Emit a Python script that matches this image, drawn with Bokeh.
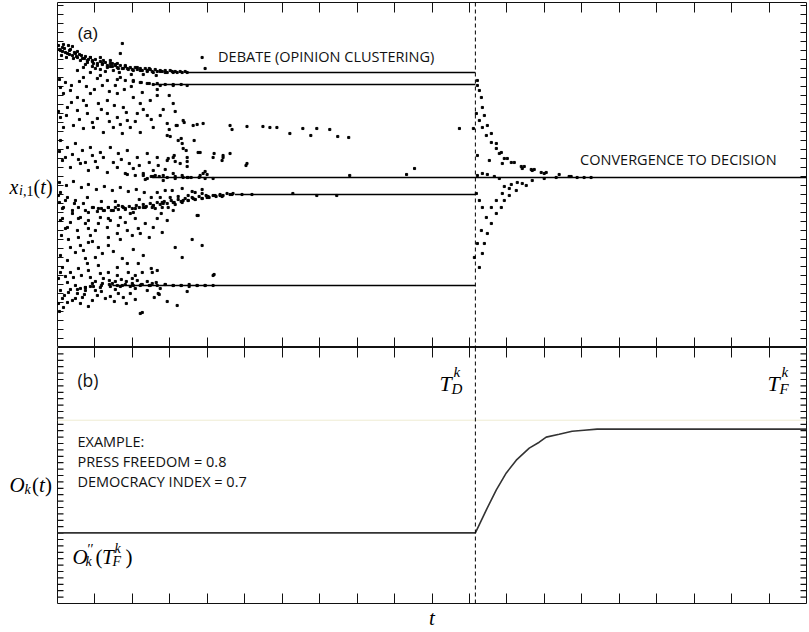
from bokeh.plotting import figure
from bokeh.models import Range1d, FixedTicker, Span, Label, LinearAxis
from bokeh.layouts import column, row
from bokeh.embed import file_html
from bokeh.resources import INLINE

# ---------------- data (time in steps, opinion in arbitrary units) ----------------
T_END = 751
T_D = 419
OP_MAX = 345

# opinion clusters formed during the debate
cluster_op = [275, 263, 170, 153, 62]
cluster_t0 = [130, 95, 95, 178, 55]
cluster_t1 = [419, 419, 751, 419, 419]

debate_t = [1, 5, 11, 15, 3, 8, 13, 18, 20, 6, 65, 145, 63,
            23, 30, 40, 50, 56, 66, 76, 90, 103, 116, 130, 27, 35, 45, 53, 61, 71, 83, 96, 108, 35, 43, 55, 26, 20, 33, 43, 53, 60, 43, 33,
            90, 103, 116, 130, 76, 63, 50, 40, 26, 83, 96,
            3, 6, 13, 20, 26, 33, 41, 50, 60, 66, 76, 83, 93, 90, 80, 70, 60, 50, 40, 30, 20, 10, 3, 6, 16, 26, 36, 46, 56, 65, 73, 83, 96, 110, 120, 126, 136,
            173, 190, 206, 213, 220, 233, 246, 254, 260, 273, 281, 292, 403, 417,
            127, 140, 146, 175, 148, 100, 106, 116, 112, 119, 113, 121, 124, 137, 129, 126, 141, 157, 166, 165, 173, 130, 130, 189, 148, 146, 117, 118, 123, 111,
            3, 10, 18, 25, 33, 43, 53, 61, 70, 80, 90, 100, 110, 116, 130, 143, 156, 166, 190, 5, 13, 23, 31, 40, 50, 60, 68, 76, 86, 96, 106, 116, 125,
            90, 96, 106, 130, 143, 150, 98, 118, 131, 148, 156,
            3, 10, 18, 26, 36, 46, 56, 66, 76, 86, 96, 106, 116, 126, 136, 150, 163, 176, 98, 105, 111, 118, 125, 131, 138, 145, 151, 158, 165, 175, 185, 195,
            108, 115, 125, 135, 138, 145, 145, 121, 131, 103, 105, 100,
            6, 15, 23, 31, 43, 53, 63, 73, 3, 10, 20, 28, 38, 50, 60, 70, 83, 96, 100, 116, 140, 110,
            1, 8, 5, 15, 21, 28, 35, 41, 51, 61, 68, 78, 88, 95, 5, 13, 21, 31, 41, 51, 61, 68, 78, 88, 81, 31, 8,
            21, 31, 51, 13, 23, 35, 41, 51, 75, 3, 10, 28, 38, 65, 70, 81, 95,
            5, 13, 21, 31, 41, 51, 60, 71, 78, 85, 1, 10, 18, 28, 35, 45, 55, 65, 75, 85, 95, 3, 11, 20, 28, 5, 15, 25, 1, 10, 6, 35, 48, 61, 66, 73, 101, 85, 43, 75, 103, 102, 157, 141, 104,
            350, 358, 293, 236, 260, 280, 83, 156, 94, 100,
            23, 33, 43, 53, 63, 73, 83, 93, 38, 58, 78,
            2, 4, 9, 12, 16, 19, 24, 28, 31, 36, 38, 46, 48, 58, 62, 68, 74, 80, 86, 92, 99,
            2, 8, 14, 22, 29, 37, 45, 52, 58, 67, 74, 85, 100, 112,
            1, 9, 14, 22, 29, 35, 44, 52, 57, 63, 69, 78, 86, 94, 103, 110, 118, 125,
            2, 8, 15, 21, 28, 35, 38, 46, 56, 64, 72, 82, 92, 101, 108, 88,
            2, 9, 16, 24, 31, 39, 47, 55, 63, 71, 79, 87, 94, 113, 82, 58, 44, 30, 17, 2,
            3, 8, 16, 24, 33, 38, 46, 52, 58, 64, 69, 80, 90, 99, 108, 116, 124, 132, 140, 148,
            2, 7, 13, 18, 23, 27, 31, 40, 44, 53, 57, 69, 78, 90, 97, 110, 120, 130,
            4, 11, 18, 26, 33, 45, 56, 63, 76, 86, 92, 105, 118, 125, 135, 145, 60, 30,
            # dense streaks of the forming clusters
            5, 10, 15, 20, 25, 30, 35, 40, 45, 50, 55, 60, 65, 70, 75, 80, 85, 90, 95, 100, 105, 110, 115, 120, 125,
            7, 12, 17, 22, 28, 33, 38, 43, 48, 53, 58, 63, 68, 73, 78, 83, 88, 93, 98, 103, 108, 113, 118, 123, 128,
            40, 47, 54, 61, 68, 75, 82, 89, 96, 103, 110, 117, 124, 131, 138, 145, 152, 159, 166, 173,
            44, 51, 58, 65, 72, 79, 86, 93, 100, 107, 114, 121, 128, 135, 142, 149, 156, 163, 170,
            20, 28, 36, 44, 52, 60, 68, 76, 84, 92, 100, 108, 116, 124, 132, 140, 148, 156,
            60, 68, 76, 84, 92, 100, 108, 116, 124,
            70, 78, 86, 94, 102, 110, 118, 126, 134, 142]
debate_op = [302, 300, 302, 301, 297, 295, 298, 294, 296, 303, 304, 290, 294,
             287, 285, 282, 280, 277, 279, 277, 276, 276, 275, 275, 289, 287, 284, 281, 279, 278, 277, 275, 275, 281, 278, 284, 280, 277, 275, 272, 287, 284, 290, 290,
             264, 262, 262, 262, 267, 270, 267, 269, 270, 265, 263,
             260, 254, 257, 250, 247, 254, 244, 247, 254, 240, 250, 244, 247, 232, 234, 227, 230, 234, 229, 234, 237, 240, 230, 220, 222, 219, 220, 215, 220, 214, 220, 215, 220, 224, 222, 227, 222,
             222, 221, 221, 220, 220, 214, 219, 212, 219, 218, 211, 210, 219, 219,
             225, 223, 224, 218, 279, 252, 238, 244, 218, 222, 211, 207, 209, 207, 197, 199, 195, 194, 190, 187, 194, 186, 181, 182, 176, 174, 192, 186, 184, 189,
             207, 200, 204, 197, 200, 195, 200, 194, 197, 190, 194, 190, 187, 190, 190, 195, 190, 192, 184, 187, 180, 184, 177, 180, 175, 180, 174, 179, 174, 177, 172, 174, 172,
             169, 171, 167, 170, 172, 173, 172, 169, 170, 169, 169,
             155, 150, 147, 144, 140, 137, 137, 140, 135, 140, 142, 144, 145, 147, 149, 150, 152, 154, 139, 140, 140, 143, 145, 147, 148, 149, 151, 152, 151, 153, 153, 153,
             157, 157, 159, 156, 155, 158, 154, 151, 152, 150, 145, 155,
             140, 134, 130, 135, 130, 127, 130, 134, 127, 120, 117, 124, 117, 120, 114, 117, 114, 120, 129, 137, 132, 127,
             152, 147, 139, 137, 140, 137, 140, 139, 140, 142, 139, 139, 140, 140, 129, 125, 129, 127, 124, 129, 122, 125, 129, 124, 119, 119, 119,
             110, 105, 110, 100, 102, 106, 100, 102, 112, 92, 87, 89, 90, 89, 84, 84, 75,
             80, 75, 79, 77, 82, 75, 72, 75, 72, 75, 69, 65, 62, 60, 64, 64, 64, 62, 64, 63, 64, 57, 55, 54, 57, 49, 47, 50, 44, 45, 40, 47, 49, 54, 50, 54, 54, 35, 74, 69, 59, 53, 73, 132, 134,
             173, 179, 172, 154, 152, 152, 34, 72, 79, 77,
             59, 61, 60, 61, 61, 61, 62, 62, 57, 58, 59,
             298, 292, 290, 293, 289, 291, 292, 283, 288, 284, 279, 287, 276, 282, 275, 282, 273, 280, 273, 279, 272,
             268, 265, 262, 266, 261, 258, 262, 256, 262, 258, 261, 255, 258, 252,
             236, 232, 245, 228, 242, 225, 238, 226, 242, 223, 235, 226, 238, 228, 232, 212, 236, 204,
             196, 190, 193, 188, 185, 192, 186, 190, 185, 188, 184, 182, 185, 182, 178, 168,
             165, 162, 166, 160, 163, 158, 161, 157, 160, 156, 158, 155, 150, 150, 148, 146, 146, 150, 144, 145,
             75, 71, 70, 72, 70, 66, 69, 67, 66, 68, 66, 67, 66, 65, 63, 62, 62, 61, 62, 62,
             36, 52, 58, 49, 44, 53, 41, 52, 56, 51, 46, 44, 48, 57, 50, 46, 42, 56,
             112, 108, 95, 97, 112, 94, 96, 108, 98, 92, 110, 115, 100, 90, 108, 102, 80, 84,
             296, 294, 292, 290, 289, 287, 286, 284, 283, 282, 281, 280, 279, 279, 278, 278, 277, 277, 276, 276, 276, 275, 276, 275, 275,
             299, 297, 295, 293, 291, 290, 288, 286, 285, 284, 283, 282, 281, 280, 280, 279, 279, 278, 278, 277, 277, 277, 276, 276, 276,
             136, 137, 137, 138, 138, 139, 140, 141, 142, 143, 144, 145, 146, 147, 148, 149, 150, 151, 152, 153,
             139, 140, 140, 141, 141, 142, 143, 144, 145, 146, 147, 148, 149, 150, 151, 152, 152, 153, 154,
             58, 60, 61, 62, 63, 62, 63, 62, 63, 62, 62, 63, 62, 62, 63, 62, 62, 62,
             268, 267, 266, 265, 264, 264, 263, 263, 263,
             173, 172, 172, 171, 171, 170, 171, 170, 170, 170]

# trajectories after the debate closes (convergence to decision)
conv_t = [421, 421, 423, 425, 426, 428, 431, 435, 440, 445, 451, 458, 468, 478, 490, 503, 515,
          420, 423, 426, 430, 435, 440, 443, 448, 455, 465, 475, 485,
          421, 433, 446, 466, 476, 488,
          421, 426, 431, 438, 443,
          418, 421, 425, 430, 435, 440, 446, 453, 466, 476, 488, 500,
          423, 426, 428, 431, 435, 440, 445, 448, 453, 460, 470,
          420, 423, 426, 448, 455, 461,
          513, 521, 528, 535]
conv_op = [267, 262, 257, 250, 240, 232, 222, 214, 204, 195, 189, 185, 181, 178, 175, 173, 171,
           234, 227, 220, 212, 205, 199, 194, 189, 185, 181, 178, 175,
           192, 187, 184, 179, 177, 174,
           172, 174, 173, 171, 169,
           90, 104, 117, 130, 140, 147, 154, 159, 164, 167, 169, 170,
           80, 94, 104, 114, 124, 134, 140, 147, 152, 157, 162,
           154, 147, 140, 161, 163, 165,
           171, 170, 170, 170]

# (b) opinion of the collective O_k(t)
ok_t = [0, 419, 430, 440, 450, 460, 473, 483, 490, 503, 516, 528, 541, 751]
ok_v = [0.276, 0.276, 0.366, 0.444, 0.510, 0.560, 0.607, 0.630, 0.650, 0.661, 0.673, 0.677, 0.681, 0.681]
guide_level = 0.716

example_lines = ["EXAMPLE:", "PRESS FREEDOM = 0.8", "DEMOCRACY INDEX = 0.7"]
example_y = [0.632, 0.554, 0.478]

# ---------------- layout helpers ----------------
FW = 749
SIDE_W = 55
LEFT_B = 2
RIGHT_B = 3
HA = 345
HB = 256
MATH = "Liberation Serif"
x_ticks = [round(37.55 * k, 2) for k in range(1, 20)]
ya_ticks = list(range(9, 345, 9))
yb_ticks = [round(0.025 * k, 3) for k in range(1, 40)]


def make_fig(fh, ymax, top, bottom):
    p = figure(frame_width=FW, frame_height=fh, x_range=Range1d(0, T_END), y_range=Range1d(0, ymax),
               output_backend="svg", toolbar_location=None, x_axis_location=None, y_axis_location=None,
               min_border_left=LEFT_B, min_border_right=RIGHT_B, min_border_top=top, min_border_bottom=bottom,
               background_fill_color="white", border_fill_color="white",
               outline_line_color="#111111", outline_line_width=1)
    p.grid.visible = False
    return p


def make_side(fh, ymax, top, bottom):
    s = figure(frame_width=SIDE_W, frame_height=fh, x_range=Range1d(0, SIDE_W), y_range=Range1d(0, ymax),
               output_backend="svg", toolbar_location=None, x_axis_location=None, y_axis_location=None,
               min_border_left=0, min_border_right=0, min_border_top=top, min_border_bottom=bottom,
               background_fill_color="white", border_fill_color="white", outline_line_color=None)
    s.grid.visible = False
    return s


def add_ticks(p, side, ticks, length):
    ax = LinearAxis(ticker=FixedTicker(ticks=ticks), major_tick_in=length, major_tick_out=0,
                    minor_tick_in=0, minor_tick_out=0, axis_line_color=None,
                    major_tick_line_color="#111111", major_tick_line_width=1,
                    major_label_text_color=None, major_label_standoff=0)
    p.add_layout(ax, side)
    return ax


def add_side_ticks(p, ticks):
    # inward tick marks on the left and right frame edges, as short screen-length rays
    n = len(ticks)
    p.ray(x=[0] * n, y=ticks, length=6, length_units="screen", angle=0,
          line_color="#111111", line_width=1.2)
    p.ray(x=[T_END] * n, y=ticks, length=6, length_units="screen", angle=3.14159265,
          line_color="#111111", line_width=1.2)


def math(p, x, y, pieces):
    for txt, dx, dy, size, style in pieces:
        p.add_layout(Label(x=x, y=y, x_offset=dx, y_offset=dy, text=txt, text_font=MATH,
                           text_font_size=f"{size}px", text_font_style=style,
                           text_baseline="alphabetic", text_align="left", text_color="black"))


def text(p, x, y, s, font, size, baseline="middle"):
    p.add_layout(Label(x=x, y=y, text=s, text_font=font, text_font_size=size,
                       text_baseline=baseline, text_align="left", text_color="#111111"))


# ---------------- panel (a) ----------------
pa = make_fig(HA, OP_MAX, 2, 0)
add_ticks(pa, "above", x_ticks, 10)
add_ticks(pa, "below", x_ticks, 10)
add_side_ticks(pa, ya_ticks)

pa.segment(x0=cluster_t0, y0=cluster_op, x1=cluster_t1, y1=cluster_op, line_color="black", line_width=1.6)
pa.scatter(debate_t, debate_op, marker="square", size=2.1, color="black")
pa.scatter(conv_t, conv_op, marker="square", size=2.1, color="black")
pa.add_layout(Span(location=T_D, dimension="height", line_color="black", line_width=1, line_dash="4 3"))

text(pa, 20, 314, "(a)", "Liberation Sans", "17px", baseline="alphabetic")
text(pa, 161, 291, "DEBATE (OPINION CLUSTERING)", "Open Sans", "14.5px")
text(pa, 524, 188, "CONVERGENCE TO DECISION", "Open Sans", "14.5px")

sa = make_side(HA, OP_MAX, 2, 0)
math(sa, 9, 161, [("x", 0, 0, 20, "italic"), ("i", 9.5, -4, 14, "italic"), (",1", 13.4, -4, 14, "normal"),
                  ("(", 24, 0, 20, "normal"), ("t", 30.7, 0, 20, "italic"), (")", 36.5, 0, 20, "normal")])

# ---------------- panel (b) ----------------
pb = make_fig(HB, 1.0, 0, 0)
add_ticks(pb, "above", x_ticks, 10)
bx = add_ticks(pb, "below", x_ticks, 10)
bx.axis_label = "t"
bx.axis_label_text_font = MATH
bx.axis_label_text_font_style = "italic"
bx.axis_label_text_font_size = "21px"
bx.axis_label_standoff = 2
bx.axis_label_text_color = "black"
add_side_ticks(pb, yb_ticks)

pb.add_layout(Span(location=guide_level, dimension="width", line_color="#efecd2", line_width=1))
pb.line(ok_t, ok_v, line_color="#333333", line_width=1.6)
pb.add_layout(Span(location=T_D, dimension="height", line_color="black", line_width=1, line_dash="4 3"))

text(pb, 20, 0.872, "(b)", "Open Sans", "17.5px", baseline="alphabetic")
for s, yy in zip(example_lines, example_y):
    text(pb, 20, yy, s, "Open Sans", "14.5px")

math(pb, 15, 0.183, [("O", 0, 0, 21, "italic"), ("\u2032\u2032", 15, 7, 14, "normal"), ("k", 13, -5, 14, "italic"),
                     ("(", 23, 0, 21, "normal"), ("T", 29.5, 0, 21, "italic"), ("k", 42, 8, 14, "italic"),
                     ("F", 40, -5, 14, "italic"), (")", 53, 0, 21, "normal")])
math(pb, 383, 0.860, [("T", 0, 0, 22, "italic"), ("k", 14, 11, 15, "italic"), ("D", 12, -6, 15, "italic")])
math(pb, 712, 0.860, [("T", 0, 0, 22, "italic"), ("k", 14, 11, 15, "italic"), ("F", 12, -6, 15, "italic")])

sb = make_side(HB, 1.0, 0, 25)
math(sb, 9, 0.462, [("O", 0, 0, 21, "italic"), ("k", 15, -4, 14, "italic"),
                    ("(", 22.5, 0, 21, "normal"), ("t", 29.5, 0, 21, "italic"), (")", 35.5, 0, 21, "normal")])

layout = column(row(sa, pa, spacing=0), row(sb, pb, spacing=0), spacing=0)
open("out.html", "w").write(file_html(layout, INLINE))
